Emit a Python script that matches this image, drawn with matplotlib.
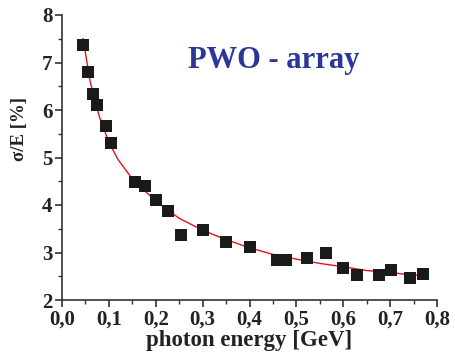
import matplotlib
matplotlib.use("Agg")
import matplotlib.pyplot as plt
from matplotlib.ticker import MultipleLocator, FuncFormatter

# measured points
energy = [0.045, 0.055, 0.066, 0.075, 0.094, 0.105, 0.156, 0.177, 0.200, 0.226,
          0.254, 0.301, 0.350, 0.400, 0.459, 0.478, 0.523, 0.563, 0.600, 0.630,
          0.676, 0.702, 0.742, 0.770]
resolution = [7.37, 6.80, 6.34, 6.10, 5.66, 5.30, 4.48, 4.40, 4.10, 3.87,
              3.37, 3.47, 3.22, 3.12, 2.84, 2.84, 2.88, 2.99, 2.67, 2.53,
              2.53, 2.63, 2.46, 2.55]

# fit curve
fit_e = [0.045, 0.06, 0.08, 0.10, 0.12, 0.15, 0.20, 0.25, 0.30, 0.35, 0.40,
         0.45, 0.50, 0.55, 0.60, 0.65, 0.70, 0.75, 0.77]
fit_r = [7.50, 6.60, 5.85, 5.32, 4.95, 4.55, 4.08, 3.72, 3.47, 3.27, 3.10,
         2.96, 2.86, 2.77, 2.70, 2.62, 2.58, 2.52, 2.53]

serif = "Liberation Serif"

fig = plt.figure(figsize=(4.55, 3.56), dpi=100)
ax = fig.add_axes([62 / 455, 56 / 356, 375 / 455, 285 / 356])

ax.plot(fit_e, fit_r, color="#e8101a", lw=1.0, zorder=2)
ax.scatter(energy, resolution, marker="s", s=75, color="#1a1a1a", zorder=3, linewidths=0)

ax.set_xlim(0, 0.8)
ax.set_ylim(2, 8)
ax.xaxis.set_major_locator(MultipleLocator(0.1))
ax.xaxis.set_minor_locator(MultipleLocator(0.05))
ax.yaxis.set_major_locator(MultipleLocator(1))
ax.yaxis.set_minor_locator(MultipleLocator(0.5))
ax.xaxis.set_major_formatter(FuncFormatter(lambda v, p: f"{v:.1f}".replace(".", ",")))

for s in ["top", "right"]:
    ax.spines[s].set_visible(False)
for s in ["left", "bottom"]:
    ax.spines[s].set_linewidth(1.2)
    ax.spines[s].set_color("#333333")

ax.tick_params(which="major", direction="out", length=5, width=1.2, color="#333333",
               labelsize=15, pad=2)
ax.tick_params(which="minor", direction="out", length=3, width=1.0, color="#333333")
for lab in ax.get_xticklabels() + ax.get_yticklabels():
    lab.set_fontfamily(serif)
    lab.set_fontweight("bold")
    lab.set_color("#222222")

ax.set_xlabel("photon energy [GeV]", fontfamily=serif, fontweight="bold",
              fontsize=16.5, color="#222222", labelpad=0)
ax.set_ylabel("σ/E [%]", fontfamily=serif, fontweight="bold",
              fontsize=13.5, color="#222222")
ax.yaxis.set_label_coords(-0.09, 0.6)

ax.text(0.565, 0.84, "PWO - array", transform=ax.transAxes, ha="center", va="center",
        fontfamily=serif, fontweight="bold", fontsize=22, color="#2a3796")

fig.savefig("out.png", dpi=100)
